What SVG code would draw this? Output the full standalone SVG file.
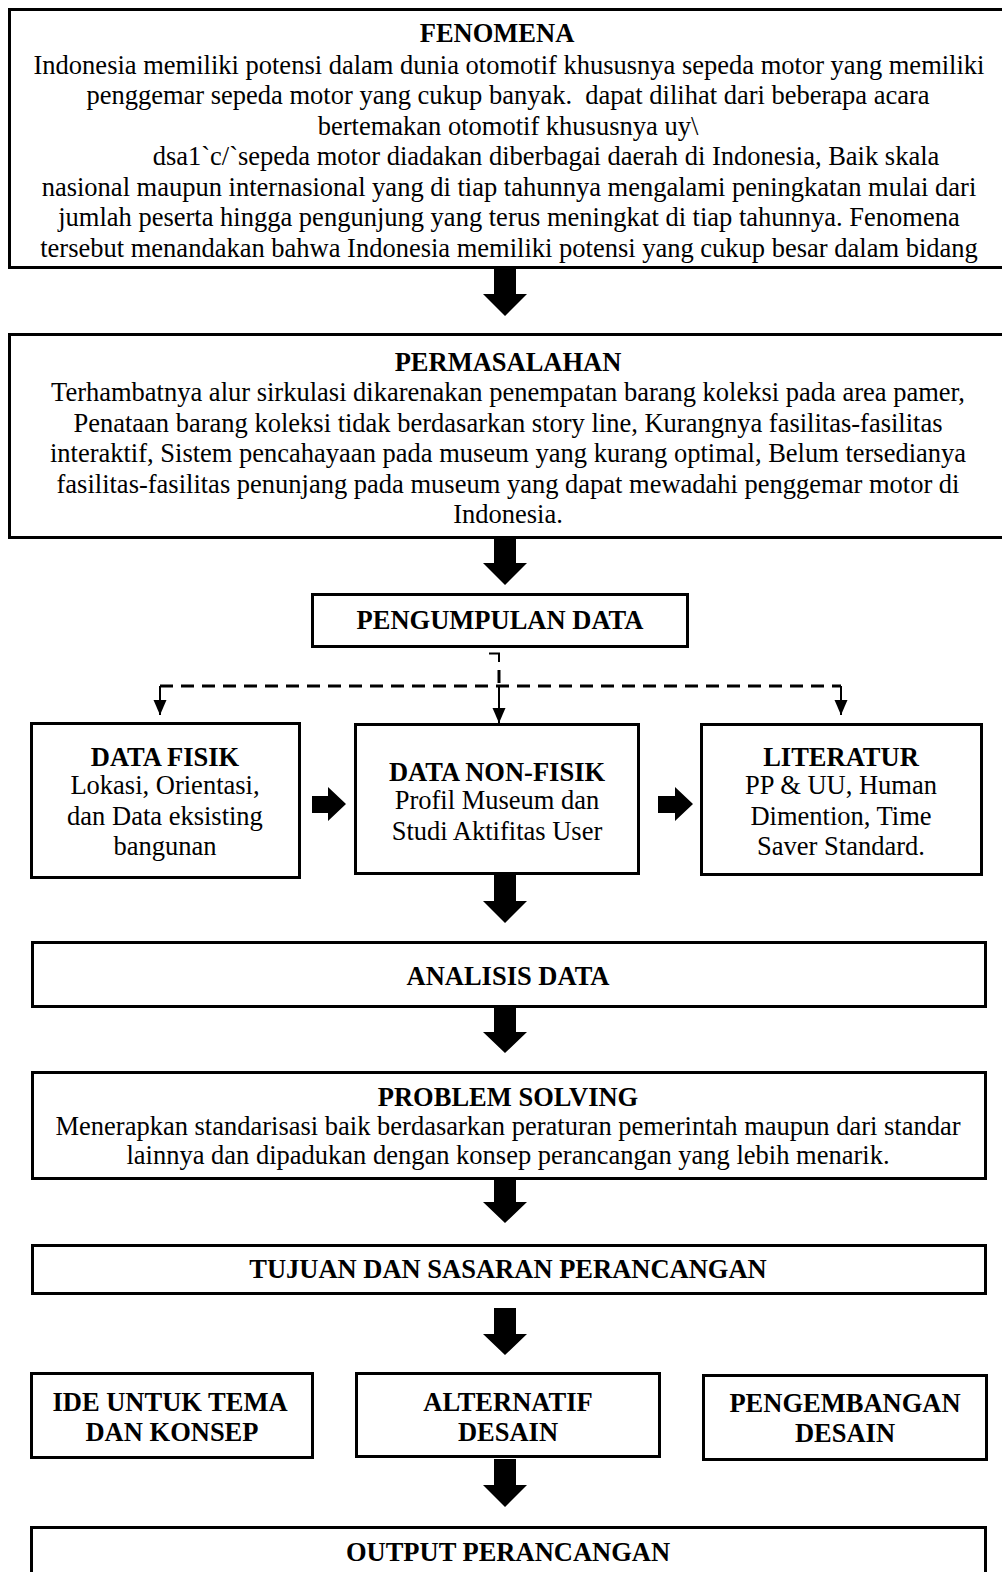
<svg xmlns="http://www.w3.org/2000/svg" width="1002" height="1572" viewBox="0 0 1002 1572">
  <style>
    .box { fill: #ffffff; stroke: #000000; stroke-width: 3; }
    .t { font-family: "Liberation Serif", "Times New Roman", serif; font-size: 26.5px; fill: #000000; text-anchor: middle; }
    .b { font-weight: bold; }
    .big { fill: #000000; }
    .dash { fill: none; stroke: #000000; stroke-width: 3; stroke-dasharray: 13 8; }
    .thin { fill: none; stroke: #000000; stroke-width: 2; }
  </style>
  <defs>
    <marker id="tri" markerWidth="14" markerHeight="16" refX="7" refY="15" orient="0" markerUnits="userSpaceOnUse">
      <path d="M0.5,0 L13.5,0 L7,15 Z" fill="#000000"/>
    </marker>
  </defs>
  <rect x="0" y="0" width="1002" height="1572" fill="#ffffff"/>

  <g id="fenomena">
    <rect class="box" x="9.5" y="9.5" width="1010" height="258"/>
    <text class="t b" x="497" y="42">FENOMENA</text>
    <text class="t" x="509" y="73.5">Indonesia memiliki potensi dalam dunia otomotif khususnya sepeda motor yang memiliki</text>
    <text class="t" x="508" y="104" style="white-space:pre">penggemar sepeda motor yang cukup banyak.  dapat dilihat dari beberapa acara</text>
    <text class="t" x="508" y="134.5">bertemakan otomotif khususnya uy\</text>
    <text class="t" x="546" y="165">dsa1`c/`sepeda motor diadakan diberbagai daerah di Indonesia, Baik skala</text>
    <text class="t" x="509" y="195.5">nasional maupun internasional yang di tiap tahunnya mengalami peningkatan mulai dari</text>
    <text class="t" x="509" y="226">jumlah peserta hingga pengunjung yang terus meningkat di tiap tahunnya. Fenomena</text>
    <text class="t" x="509" y="256.5">tersebut menandakan bahwa Indonesia memiliki potensi yang cukup besar dalam bidang</text>
  </g>

  <g id="permasalahan">
    <rect class="box" x="9.5" y="334.5" width="1010" height="203"/>
    <text class="t b" x="508" y="371">PERMASALAHAN</text>
    <text class="t" x="508" y="401">Terhambatnya alur sirkulasi dikarenakan penempatan barang koleksi pada area pamer,</text>
    <text class="t" x="508" y="431.5">Penataan barang koleksi tidak berdasarkan story line, Kurangnya fasilitas-fasilitas</text>
    <text class="t" x="508" y="462">interaktif, Sistem pencahayaan pada museum yang kurang optimal, Belum tersedianya</text>
    <text class="t" x="508" y="492.5">fasilitas-fasilitas penunjang pada museum yang dapat mewadahi penggemar motor di</text>
    <text class="t" x="508" y="523">Indonesia.</text>
  </g>

  <g id="pengumpulan-data">
    <rect class="box" x="312.5" y="594.5" width="375" height="52"/>
    <text class="t b" x="500" y="629">PENGUMPULAN DATA</text>
  </g>

  <g id="data-fisik">
    <rect class="box" x="31.5" y="723.5" width="268" height="154"/>
    <text class="t b" x="165" y="766">DATA FISIK</text>
    <text class="t" x="165" y="794">Lokasi, Orientasi,</text>
    <text class="t" x="165" y="824.5">dan Data eksisting</text>
    <text class="t" x="165" y="855">bangunan</text>
  </g>

  <g id="data-non-fisik">
    <rect class="box" x="355.5" y="724.5" width="283" height="149"/>
    <text class="t b" x="497" y="781">DATA NON-FISIK</text>
    <text class="t" x="497" y="809">Profil Museum dan</text>
    <text class="t" x="497" y="839.5">Studi Aktifitas User</text>
  </g>

  <g id="literatur">
    <rect class="box" x="701.5" y="724.5" width="280" height="150"/>
    <text class="t b" x="841" y="766">LITERATUR</text>
    <text class="t" x="841" y="794">PP &amp; UU, Human</text>
    <text class="t" x="841" y="824.5">Dimention, Time</text>
    <text class="t" x="841" y="855">Saver Standard.</text>
  </g>

  <g id="analisis-data">
    <rect class="box" x="32.5" y="942.5" width="953" height="64"/>
    <text class="t b" x="508" y="985">ANALISIS DATA</text>
  </g>

  <g id="problem-solving">
    <rect class="box" x="32.5" y="1072.5" width="953" height="106"/>
    <text class="t b" x="508" y="1106">PROBLEM SOLVING</text>
    <text class="t" x="508" y="1135">Menerapkan standarisasi baik berdasarkan peraturan pemerintah maupun dari standar</text>
    <text class="t" x="508" y="1164">lainnya dan dipadukan dengan konsep perancangan yang lebih menarik.</text>
  </g>

  <g id="tujuan">
    <rect class="box" x="32.5" y="1245.5" width="953" height="48"/>
    <text class="t b" x="508" y="1278">TUJUAN DAN SASARAN PERANCANGAN</text>
  </g>

  <g id="ide">
    <rect class="box" x="31.5" y="1373.5" width="281" height="84"/>
    <text class="t b" x="170" y="1411">IDE UNTUK TEMA</text>
    <text class="t b" x="172" y="1441">DAN KONSEP</text>
  </g>

  <g id="alternatif">
    <rect class="box" x="356.5" y="1373.5" width="303" height="83"/>
    <text class="t b" x="508" y="1411">ALTERNATIF</text>
    <text class="t b" x="508" y="1441">DESAIN</text>
  </g>

  <g id="pengembangan">
    <rect class="box" x="703.5" y="1375.5" width="283" height="84"/>
    <text class="t b" x="845" y="1412">PENGEMBANGAN</text>
    <text class="t b" x="845" y="1442">DESAIN</text>
  </g>

  <g id="output">
    <rect class="box" x="31.5" y="1527.5" width="954" height="60"/>
    <text class="t b" x="508" y="1561">OUTPUT PERANCANGAN</text>
  </g>

  <g id="connectors">
    <!-- big down arrows -->
    <path class="big" d="M494,269 H516 V294 H527 L505,316 L483,294 H494 Z"/>
    <path class="big" d="M494,538 H516 V563 H527 L505,585 L483,563 H494 Z"/>
    <path class="big" d="M494,875 H516 V901 H527 L505,923 L483,901 H494 Z"/>
    <path class="big" d="M494,1007 H516 V1032 H527 L505,1053 L483,1032 H494 Z"/>
    <path class="big" d="M494,1179 H516 V1202 H527 L505,1223 L483,1202 H494 Z"/>
    <path class="big" d="M494,1308 H516 V1334 H527 L505,1355 L483,1334 H494 Z"/>
    <path class="big" d="M494,1459 H516 V1485 H527 L505,1507 L483,1485 H494 Z"/>
    <!-- small right arrows -->
    <path class="big" d="M312,796 H328 V787 L346,804 L328,821 V813 H312 Z"/>
    <path class="big" d="M658,796 H675 V787 L693,804 L675,821 V813 H658 Z"/>
    <!-- dashed distribution -->
    <path class="thin" d="M489,653.5 H499 V662" stroke-width="3"/>
    <path class="dash" d="M499,670 V686" stroke-dasharray="10 6"/>
    <path class="dash" d="M160,686 H841"/>
    <path class="thin" d="M160,686 V715" marker-end="url(#tri)"/>
    <path class="thin" d="M841,686 V715" marker-end="url(#tri)"/>
    <path class="thin" d="M499,686 V723" marker-end="url(#tri)"/>
  </g>
</svg>
